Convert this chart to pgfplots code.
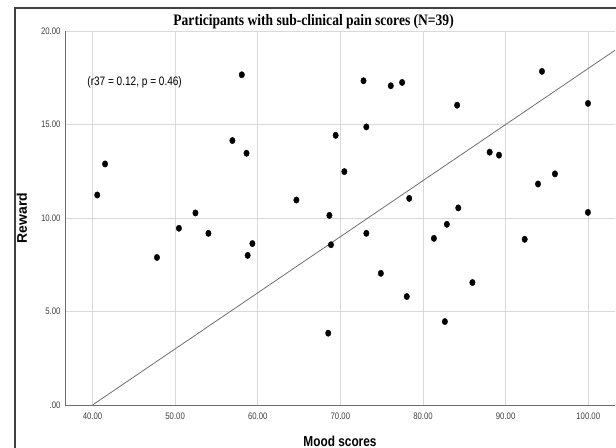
\documentclass[border=0pt]{standalone}
\usepackage{fontspec}
\setmainfont{Liberation Sans}
\newfontfamily\narrow{Liberation Sans}[FakeStretch=0.82]
\newfontfamily\titlefont{Liberation Serif}[FakeStretch=0.85]
\usepackage{pgfplots}
\pgfplotsset{compat=1.18}
\definecolor{gridgray}{HTML}{D9D9D9}
\definecolor{axisgray}{HTML}{6E6E6E}
\definecolor{labelgray}{HTML}{404040}

% mood score, reward
\pgfplotstableread{
x y
58.07 17.66
72.80 17.34
76.10 17.07
77.47 17.25
84.13 16.03
94.40 17.84
99.97 16.13
56.93 14.14
73.14 14.87
69.43 14.42
41.52 12.89
40.57 11.23
58.64 13.46
88.07 13.52
89.20 13.36
70.48 12.48
95.97 12.36
93.92 11.82
64.68 10.96
78.33 11.05
68.67 10.14
52.46 10.27
84.27 10.54
99.96 10.30
82.89 9.66
50.46 9.45
54.03 9.18
73.14 9.18
81.32 8.91
92.31 8.86
59.35 8.63
68.86 8.57
58.78 8.00
47.80 7.89
74.90 7.04
85.98 6.55
78.04 5.80
68.53 3.84
82.65 4.46
}\moodreward

\begin{document}
\begin{tikzpicture}[x=1bp,y=1bp]
\begin{axis}[
    at={(0,0)}, anchor=south west,
    scale only axis, width=550bp, height=374bp,
    xmin=36.67, xmax=103.24, ymin=0, ymax=20,
    xtick={40,50,60,70,80,90,100}, ytick={0,5,10,15,20},
    xticklabels={40.00,50.00,60.00,70.00,80.00,90.00,100.00},
    yticklabels={.00,5.00,10.00,15.00,20.00},
    axis x line=bottom, axis y line=left,
    axis line style={-, axisgray, line width=0.8pt},
    grid=major, major grid style={gridgray, line width=0.8pt},
    major tick length=0pt,
    tick label style={font=\narrow\fontsize{9.5}{10}\selectfont, text=labelgray},
    xticklabel style={yshift=-4bp},
    yticklabel style={xshift=-1bp},
    clip=true,
]
\addplot[no marks, color=axisgray, line width=0.8pt] coordinates {(40,0) (103.24,18.97)};
\addplot[only marks, mark=*, mark size=3.2bp,
    mark options={fill=black, draw=black, xscale=0.85}] table[x=x, y=y] {\moodreward};
\node[anchor=west, inner sep=0pt, font=\narrow\fontsize{12.3}{14}\selectfont] at (axis cs:39.36,17.27) {(r37 = 0.12, p = 0.46)};
\end{axis}
\node[font=\titlefont\bfseries\fontsize{16}{18}\selectfont] at (248.6,383) {Participants with sub-clinical pain scores (N=39)};
\node[font=\narrow\bfseries\fontsize{14.5}{16}\selectfont] at (275,-36) {Mood scores};
\node[rotate=90, font=\bfseries\fontsize{14}{16}\selectfont] at (-43,187) {Reward};
\draw[line width=1.2pt, color=black!75] (-50,-60) -- (-50,397) -- (640,397);
\pgfresetboundingbox
\useasboundingbox (-65,-43) rectangle (551,405);
\end{tikzpicture}
\end{document}
